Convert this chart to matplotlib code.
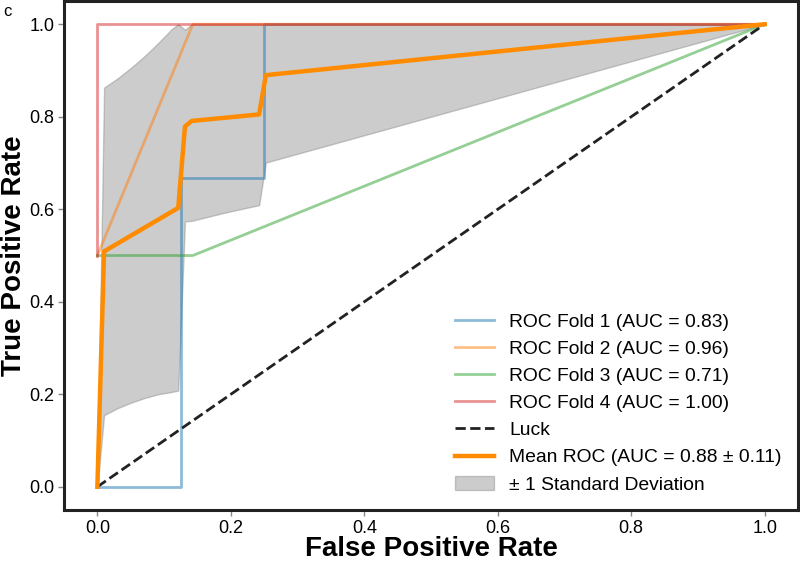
import matplotlib
matplotlib.use('Agg')
import matplotlib.pyplot as plt

plt.rcParams['font.family'] = ['Liberation Sans', 'DejaVu Sans']

# ROC curves per fold
fold1_fpr = [0.0, 0.125, 0.125, 0.25, 0.25, 1.0]
fold1_tpr = [0.0, 0.0, 0.667, 0.667, 1.0, 1.0]
fold2_fpr = [0.0, 0.143, 1.0]
fold2_tpr = [0.5, 1.0, 1.0]
fold3_fpr = [0.0, 0.143, 1.0]
fold3_tpr = [0.5, 0.5, 1.0]
fold4_fpr = [0.0, 0.0, 1.0]
fold4_tpr = [0.5, 1.0, 1.0]
fold_auc = [0.83, 0.96, 0.71, 1.00]

# mean ROC
mean_fpr = [0.0, 0.0101, 0.1212, 0.1313, 0.1414, 0.2424, 0.2525, 1.0]
mean_tpr = [0.0, 0.509, 0.603, 0.779, 0.791, 0.805, 0.890, 1.0]
mean_auc = 0.88
std_auc = 0.11

# +/- 1 std band
band_fpr = [0.0, 0.0101, 0.0303, 0.0505, 0.0707, 0.0909, 0.1111, 0.1212,
            0.1313, 0.1414, 0.1919, 0.2424, 0.2525, 1.0]
band_upper = [0.0, 0.863, 0.883, 0.906, 0.931, 0.959, 0.989, 1.0,
              0.988, 1.0, 1.0, 1.0, 1.0, 1.0]
band_lower = [0.0, 0.155, 0.170, 0.182, 0.192, 0.200, 0.205, 0.208,
              0.574, 0.575, 0.593, 0.609, 0.701, 1.0]

fig = plt.figure(figsize=(8, 5.61), dpi=100)
ax = fig.add_axes([0.08, 0.091, 0.9175, 0.907])

folds = [(fold1_fpr, fold1_tpr), (fold2_fpr, fold2_tpr),
         (fold3_fpr, fold3_tpr), (fold4_fpr, fold4_tpr)]
for i, (f, t) in enumerate(folds):
    ax.plot(f, t, color='C%d' % i, lw=2, alpha=0.5,
            label='ROC Fold %d (AUC = %.2f)' % (i + 1, fold_auc[i]))

ax.plot([0, 1], [0, 1], ls='--', lw=2, color='#222222', label='Luck')
ax.plot(mean_fpr, mean_tpr, color='darkorange', lw=3.2,
        label='Mean ROC (AUC = %.2f \u00b1 %.2f)' % (mean_auc, std_auc))
ax.fill_between(band_fpr, band_lower, band_upper, color='grey', alpha=0.4,
                label='\u00b1 1 Standard Deviation')

ax.set_xlim(-0.05, 1.05)
ax.set_ylim(-0.05, 1.05)
ax.set_xticks([0, 0.2, 0.4, 0.6, 0.8, 1.0])
ax.set_yticks([0, 0.2, 0.4, 0.6, 0.8, 1.0])
ax.set_xlabel('False Positive Rate', fontsize=20, fontweight='bold', labelpad=-0.5)
ax.set_ylabel('True Positive Rate', fontsize=20, fontweight='bold', labelpad=1.5)
ax.tick_params(labelsize=13, length=4, width=1, color='#888888', direction='out', pad=3)
for s in ax.spines.values():
    s.set_linewidth(2.2)
    s.set_color('#222222')

ax.legend(loc='lower right', frameon=False, fontsize=13.9, handlelength=2.0,
          borderaxespad=0.45)

fig.text(0.004, 0.992, 'c', fontsize=12, va='top', ha='left')

plt.savefig('out.png', dpi=100)
